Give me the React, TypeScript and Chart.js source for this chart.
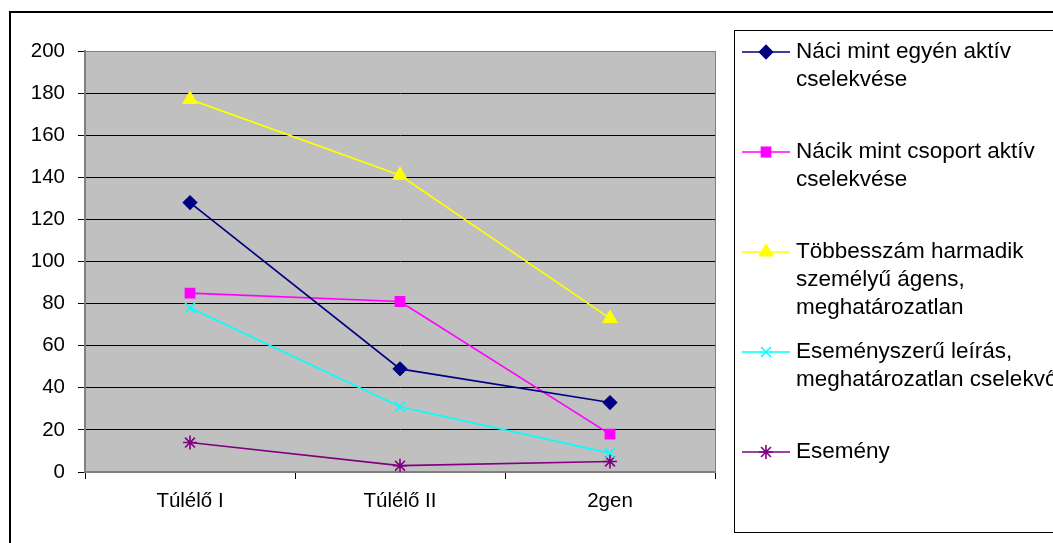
import React, { useEffect, useRef } from "react";
import { Chart, registerables } from "chart.js";
import { drawPoint } from "chart.js/helpers";

Chart.register(...registerables);

// Groups of speakers on the horizontal axis
const categories = ["Túlélő I", "Túlélő II", "2gen"];

// Counts per group for each way of referring to the agents
const naciEgyen = [128, 49, 33];
const nacikCsoport = [85, 81, 18];
const tobbesszam = [177, 141, 73];
const esemenyszeru = [78, 31, 9];
const esemeny = [14, 3, 5];

// Legend text, one array entry per printed line
const naciEgyenLabel = ["Náci mint egyén aktív", "cselekvése"];
const nacikCsoportLabel = ["Nácik mint csoport aktív", "cselekvése"];
const tobbesszamLabel = ["Többesszám harmadik", "személyű ágens,", "meghatározatlan"];
const esemenyszeruLabel = ["Eseményszerű leírás,", "meghatározatlan cselekvő"];
const esemenyLabel = ["Esemény"];

// Value axis
const yMin = 0;
const yMax = 200;
const yStep = 20;

const FONT = "'Liberation Sans', Arial, sans-serif";

type Series = {
  lines: string[];
  data: number[];
  color: string;
  pointStyle: string;
  radius: number;
};

const series: Series[] = [
  { lines: naciEgyenLabel, data: naciEgyen, color: "#000080", pointStyle: "rectRot", radius: 6.5 },
  { lines: nacikCsoportLabel, data: nacikCsoport, color: "#FF00FF", pointStyle: "rect", radius: 6.5 },
  { lines: tobbesszamLabel, data: tobbesszam, color: "#FFFF00", pointStyle: "triangle", radius: 7.5 },
  { lines: esemenyszeruLabel, data: esemenyszeru, color: "#00FFFF", pointStyle: "crossRot", radius: 7 },
  { lines: esemenyLabel, data: esemeny, color: "#800080", pointStyle: "star", radius: 7 },
];

// Page background, outer frame and plot-area fill
const framePlugin = {
  id: "frame",
  beforeDraw(chart: any) {
    const { ctx, chartArea: a, width, height } = chart;
    ctx.save();
    ctx.fillStyle = "#FFFFFF";
    ctx.fillRect(0, 0, width, height);
    ctx.fillStyle = "#C0C0C0";
    ctx.fillRect(a.left, a.top, a.right - a.left, a.bottom - a.top);
    ctx.strokeStyle = "#808080";
    ctx.lineWidth = 1;
    ctx.strokeRect(a.left + 0.5, a.top + 0.5, a.right - a.left, a.bottom - a.top);
    ctx.strokeStyle = "#000000";
    ctx.lineWidth = 2;
    ctx.strokeRect(10, 12, width + 40, height + 40);
    ctx.restore();
  },
};

// Boxed legend on the right with wrapped labels
const legendBoxPlugin = {
  id: "legendBox",
  afterDraw(chart: any) {
    const { ctx, width } = chart;
    const boxLeft = 734;
    const boxTop = 30;
    const boxBottom = 532;
    ctx.save();
    ctx.strokeStyle = "#000000";
    ctx.lineWidth = 1;
    ctx.strokeRect(boxLeft + 0.5, boxTop + 0.5, width, boxBottom - boxTop);
    ctx.font = `22.5px ${FONT}`;
    ctx.textBaseline = "middle";
    ctx.textAlign = "left";
    chart.data.datasets.forEach((ds: any, i: number) => {
      const y = 52 + i * 100;
      ctx.strokeStyle = ds.borderColor;
      ctx.lineWidth = 1.6;
      ctx.beginPath();
      ctx.moveTo(742, y);
      ctx.lineTo(790, y);
      ctx.stroke();
      ctx.fillStyle = ds.backgroundColor;
      ctx.strokeStyle = ds.borderColor;
      drawPoint(ctx, { pointStyle: ds.pointStyle, radius: ds.pointRadius, borderWidth: 1.6, rotation: 0 } as any, 766, y);
      ctx.fillStyle = "#000000";
      series[i].lines.forEach((line, j) => {
        ctx.fillText(line, 796, y + j * 28);
      });
    });
    ctx.restore();
  },
};

export default function App() {
  const canvasRef = useRef<HTMLCanvasElement | null>(null);

  useEffect(() => {
    const canvas = canvasRef.current;
    if (!canvas) return;
    const chart = new Chart(canvas, {
      type: "line",
      data: {
        labels: categories,
        datasets: series.map((s) => ({
          label: s.lines.join(" "),
          data: s.data,
          borderColor: s.color,
          backgroundColor: s.color,
          borderWidth: 1.7,
          pointStyle: s.pointStyle as any,
          pointRadius: s.radius,
          pointBorderWidth: 1.6,
          pointBackgroundColor: s.color,
          pointBorderColor: s.color,
          tension: 0,
          fill: false,
        })),
      },
      options: {
        responsive: false,
        animation: false,
        events: [],
        layout: { padding: { left: 0, right: 338, top: 51, bottom: 0 } },
        plugins: {
          legend: { display: false },
          tooltip: { enabled: false },
          title: { display: false },
        },
        scales: {
          x: {
            offset: true,
            afterFit: (scale: any) => {
              scale.height = 71;
            },
            grid: {
              offset: true,
              drawOnChartArea: false,
              drawTicks: true,
              tickLength: 7,
              color: "#000000",
              tickColor: "#000000",
            },
            border: { display: true, color: "#808080", width: 2 },
            ticks: {
              color: "#000000",
              padding: 10,
              font: { family: FONT, size: 20.5 },
              maxRotation: 0,
            },
          },
          y: {
            min: yMin,
            max: yMax,
            afterFit: (scale: any) => {
              scale.width = 85;
            },
            grid: {
              color: (c: any) =>
                c.tick && (c.tick.value === yMin || c.tick.value === yMax) ? "rgba(0,0,0,0)" : "#000000",
              tickColor: "#000000",
              tickLength: 7,
              lineWidth: 1,
            },
            border: { display: true, color: "#808080", width: 2 },
            ticks: {
              stepSize: yStep,
              color: "#000000",
              padding: 13,
              font: { family: FONT, size: 20.5 },
            },
          },
        },
      },
      plugins: [framePlugin, legendBoxPlugin],
    });
    return () => chart.destroy();
  }, []);

  return (
    <div style={{ position: "absolute", left: 0, top: 0, width: 1053, height: 543, background: "#fff" }}>
      <canvas ref={canvasRef} width={1053} height={543} style={{ display: "block" }} />
    </div>
  );
}
